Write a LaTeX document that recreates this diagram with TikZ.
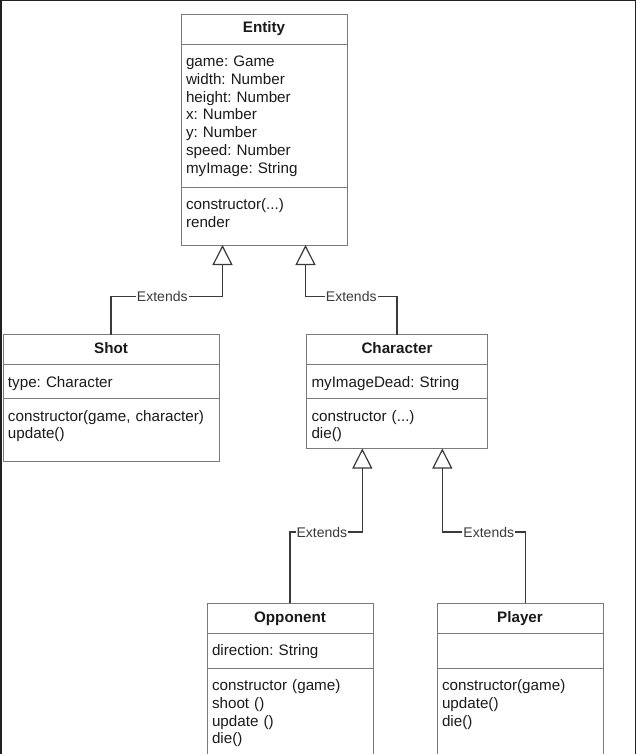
\documentclass[tikz,border=0pt]{standalone}
\usepackage{fontspec}
\setmainfont{Liberation Sans}
\usetikzlibrary{positioning,arrows.meta}
\frenchspacing

\definecolor{framegray}{HTML}{202020}
\definecolor{boxgray}{HTML}{7A7A7A}
\definecolor{linegray}{HTML}{3A3A3A}
\definecolor{textgray}{HTML}{1A1A1A}

\begin{document}
\begin{tikzpicture}[x=1pt, y=-1pt,
    classhead/.style={draw=boxgray, line width=0.9pt, outer sep=0pt, inner sep=0pt,
        minimum height=30pt, text height=11pt, text depth=3pt, text=textgray,
        font=\fontsize{15.2}{17.8}\selectfont\bfseries},
    members/.style={draw=boxgray, line width=0.9pt, outer sep=0pt, inner xsep=5pt,
        inner ysep=0pt, align=left, text height=22.5pt, text=textgray,
        font=\fontsize{15.2}{17.8}\selectfont},
    extends/.style={draw=linegray, line width=1.2pt,
        -{Triangle[length=20pt, width=20pt, fill=white]}},
    lbl/.style={fill=white, inner sep=1pt, text=linegray,
        font=\fontsize{14}{16}\selectfont}]
    \clip (0,0) rectangle (636,754);

    % Entity
    \node[classhead, minimum width=166pt] (entity) at (264,29) {Entity};
    \node[members, text width=156pt, text depth=120.5pt, below=0pt of entity] (entityattr)
        {game: Game\\width: Number\\height: Number\\x: Number\\y: Number\\speed: Number\\myImage: String};
    \node[members, text width=156pt, text depth=35.5pt, below=0pt of entityattr] (entitymeth)
        {constructor(...)\\render};

    % Shot
    \node[classhead, minimum width=216pt] (shot) at (111,349.5) {Shot};
    \node[members, text width=206pt, text depth=11.5pt, below=0pt of shot] (shotattr)
        {type: Character};
    \node[members, text width=206pt, text depth=40.5pt, below=0pt of shotattr] (shotmeth)
        {constructor(game, character)\\update()};

    % Character
    \node[classhead, minimum width=181pt] (character) at (397,349.5) {Character};
    \node[members, text width=171pt, text depth=11.5pt, below=0pt of character] (characterattr)
        {myImageDead: String};
    \node[members, text width=171pt, text depth=27.5pt, below=0pt of characterattr] (charactermeth)
        {constructor (...)\\die()};

    % Opponent
    \node[classhead, minimum width=166pt] (opponent) at (290,618) {Opponent};
    \node[members, text width=156pt, text depth=12.5pt, below=0pt of opponent] (opponentattr)
        {direction: String};
    \node[members, text width=156pt, text depth=69.5pt, below=0pt of opponentattr] (opponentmeth)
        {constructor (game)\\shoot ()\\update ()\\die()};

    % Player
    \node[classhead, minimum width=166pt] (player) at (520,618) {Player};
    \node[members, text width=156pt, text depth=12.5pt, below=0pt of player] (playerattr) {};
    \node[members, text width=156pt, text depth=69.5pt, below=0pt of playerattr] (playermeth)
        {constructor(game)\\update()\\die()};

    % Inheritance
    \draw[extends] (shot.north) -- ++(0,-38) -| node[lbl, pos=0.23] {Extends}
        ([xshift=-41.5pt]entitymeth.south);
    \draw[extends] (character.north) -- ++(0,-38) -| node[lbl, pos=0.25] {Extends}
        ([xshift=41.5pt]entitymeth.south);
    \draw[extends] (opponent.north) -- ++(0,-71) -| node[lbl, pos=0.22] {Extends}
        ([xshift=-34.7pt]charactermeth.south);
    \draw[extends] ([xshift=5.3pt]player.north) -- ++(0,-71) -| node[lbl, pos=0.22] {Extends}
        ([xshift=45.3pt]charactermeth.south);

    % Window frame
    \fill[framegray] (0,0) rectangle (636,1.5);
    \fill[framegray] (0,0) rectangle (2,754);
    \fill[framegray] (634.5,0) rectangle (636,754);
\end{tikzpicture}
\end{document}
